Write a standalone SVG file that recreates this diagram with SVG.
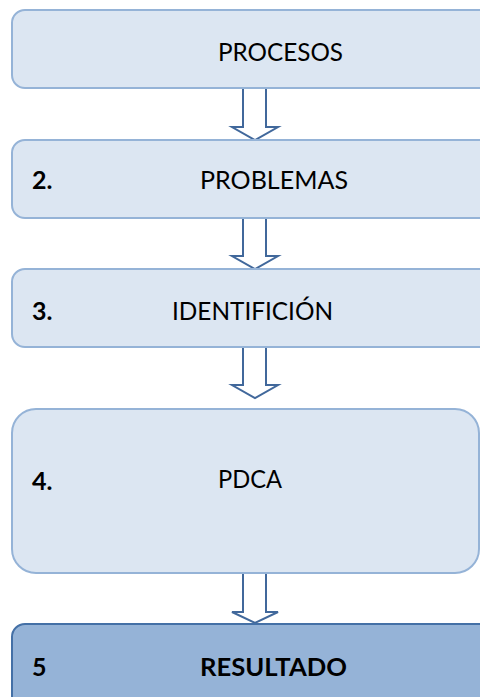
<svg xmlns="http://www.w3.org/2000/svg" width="480" height="697" viewBox="0 0 480 697">
<style>
.box{fill:#DCE6F2;stroke:#95B3D7;stroke-width:2}
.box5{fill:#95B3D7;stroke:#4470A6;stroke-width:2}
.arr{fill:#FFFFFF;stroke:#41689B;stroke-width:2;stroke-linejoin:miter}
text{font-family:Lato,"Open Sans","Liberation Sans",sans-serif;font-size:25px;fill:#000}
.lbl{text-anchor:middle}
.num{font-weight:bold}
.b{font-weight:bold}
</style>
<rect width="480" height="697" fill="#FFFFFF"/>
<g id="connectors">
<path class="arr" d="M243,88 H266 V127 H278 L255,140 L232,127 H243 Z"/>
<path class="arr" d="M243,218 H266 V256 H278 L255,269 L232,256 H243 Z"/>
<path class="arr" d="M243,347 H266 V385 H278 L255,398 L232,385 H243 Z"/>
<path class="arr" d="M243,573 H266 V612 H278 L255,623 L232,612 H243 Z"/>
</g>
<g id="node1">
<rect class="box" x="12" y="10" width="490" height="78" rx="13"/>
<text class="lbl" x="280.5" y="61" textLength="125" lengthAdjust="spacingAndGlyphs">PROCESOS</text>
</g>
<g id="node2">
<rect class="box" x="12" y="140" width="490" height="78" rx="13"/>
<text class="num" x="32" y="189">2.</text>
<text class="lbl" x="274" y="189" textLength="148" lengthAdjust="spacingAndGlyphs">PROBLEMAS</text>
</g>
<g id="node3">
<rect class="box" x="12" y="269" width="490" height="78" rx="13"/>
<text class="num" x="32" y="320">3.</text>
<text class="lbl" x="252.5" y="320" textLength="161" lengthAdjust="spacingAndGlyphs">IDENTIFICIÓN</text>
</g>
<g id="node4">
<rect class="box" x="12" y="409" width="467" height="164" rx="24"/>
<text class="num" x="32" y="490">4.</text>
<text class="lbl" x="250" y="488" textLength="64" lengthAdjust="spacingAndGlyphs">PDCA</text>
</g>
<g id="node5">
<rect class="box5" x="12" y="624" width="490" height="90" rx="13"/>
<text class="num" x="32" y="676">5</text>
<text class="lbl b" x="273.5" y="676" textLength="147" lengthAdjust="spacingAndGlyphs">RESULTADO</text>
</g>
</svg>
